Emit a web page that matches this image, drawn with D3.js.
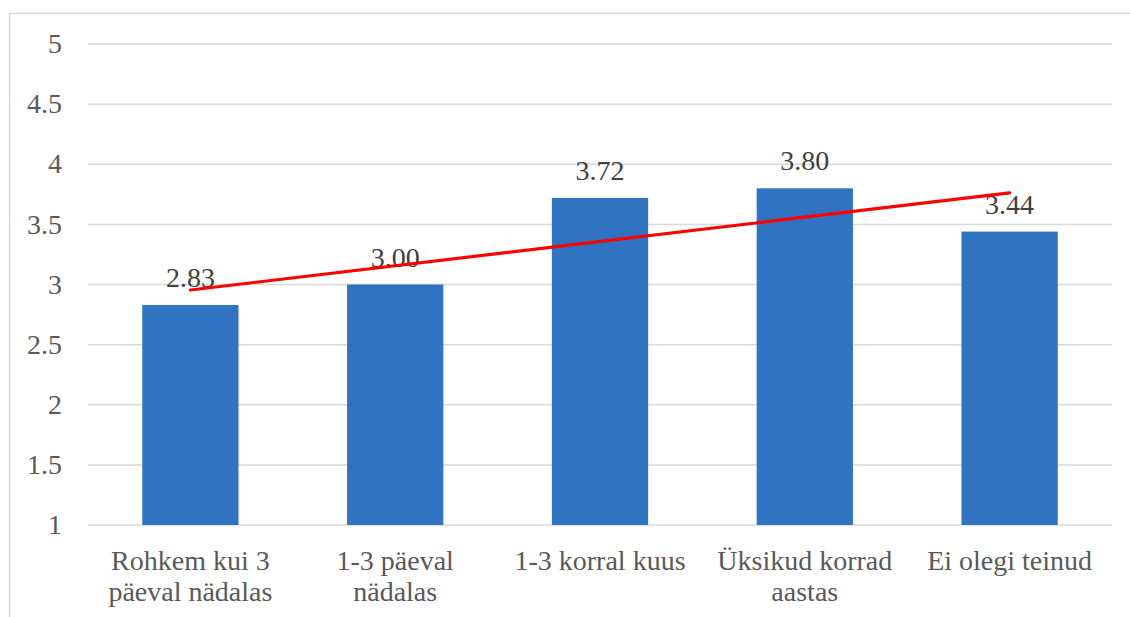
<!DOCTYPE html>
<html>
<head>
<meta charset="utf-8">
<script src="https://cdn.jsdelivr.net/npm/d3@7"></script>
<style>
  body { margin: 0; background: #ffffff; }
  #chart text { font-family: "Times New Roman", "Liberation Serif", Tinos, serif; font-size: 28px; }
</style>
</head>
<body>
<svg id="chart" width="1130" height="617" font-family="Times New Roman"></svg>
<script>
// Categories (as printed, one entry per line) and mean values per category
const categories = [
  ["Rohkem kui 3", "päeval nädalas"],
  ["1-3 päeval", "nädalas"],
  ["1-3 korral kuus"],
  ["Üksikud korrad", "aastas"],
  ["Ei olegi teinud"]
];
const values = [2.83, 3.00, 3.72, 3.80, 3.44];
const yTicks = [1, 1.5, 2, 2.5, 3, 3.5, 4, 4.5, 5];

const FONT = '"Times New Roman", "Liberation Serif", serif';
const keys = categories.map(c => c.join(" "));
const svg = d3.select("#chart");
const W = 1130, H = 617;
const plot = { left: 88, right: 1112, top: 44, bottom: 525 };

// Outer chart frame
svg.append("rect")
  .attr("x", 9.5).attr("y", 13.5)
  .attr("width", W).attr("height", H)
  .attr("fill", "none").attr("stroke", "#d9d9d9").attr("stroke-width", 1.5);

const x = d3.scaleBand()
  .domain(keys)
  .range([plot.left, plot.right])
  .paddingInner(0.53)
  .paddingOuter(0.265);

const y = d3.scaleLinear()
  .domain([1, 5])
  .range([plot.bottom, plot.top]);

// Horizontal gridlines
svg.append("g").selectAll("line")
  .data(yTicks)
  .join("line")
  .attr("x1", plot.left).attr("x2", plot.right)
  .attr("y1", d => y(d)).attr("y2", d => y(d))
  .attr("stroke", "#d9d9d9").attr("stroke-width", 1.5);

// Y tick labels
const fmt = d3.format("~g");
svg.append("g").selectAll("text")
  .data(yTicks)
  .join("text")
  .attr("x", plot.left - 26)
  .attr("y", d => y(d))
  .attr("dy", "0.33em")
  .attr("text-anchor", "end")
  .attr("fill", "#595959")
  .style("font-family", FONT)
  .text(d => fmt(d));

// Bars
svg.append("g").selectAll("rect")
  .data(values)
  .join("rect")
  .attr("x", (d, i) => x(keys[i]))
  .attr("width", x.bandwidth())
  .attr("y", d => y(d))
  .attr("height", d => y(1) - y(d))
  .attr("fill", "#2f73c1");

// Value labels
svg.append("g").selectAll("text")
  .data(values)
  .join("text")
  .attr("x", (d, i) => x(keys[i]) + x.bandwidth() / 2)
  .attr("y", d => y(d) - 18)
  .attr("text-anchor", "middle")
  .attr("fill", "#404040")
  .style("font-family", FONT)
  .text(d => d.toFixed(2));

// Linear trendline through the category positions 1..n
const n = values.length;
const xs = d3.range(1, n + 1);
const mx = d3.mean(xs), my = d3.mean(values);
const slope = d3.sum(xs, (v, i) => (v - mx) * (values[i] - my)) / d3.sum(xs, v => (v - mx) ** 2);
const intercept = my - slope * mx;
const trend = [1, n].map(k => ({ cx: x(keys[k - 1]) + x.bandwidth() / 2, v: intercept + slope * k }));
svg.append("path")
  .datum(trend)
  .attr("d", d3.line().x(d => d.cx).y(d => y(d.v)))
  .attr("fill", "none")
  .attr("stroke", "#ff0000")
  .attr("stroke-width", 3.2)
  .attr("stroke-linecap", "round");

// Category labels
svg.append("g").selectAll("text")
  .data(categories)
  .join("text")
  .attr("x", (d, i) => x(keys[i]) + x.bandwidth() / 2)
  .attr("y", plot.bottom + 45)
  .attr("text-anchor", "middle")
  .attr("fill", "#595959")
  .style("font-family", FONT)
  .each(function(lines, i) {
    const t = d3.select(this);
    const cx = x(keys[i]) + x.bandwidth() / 2;
    lines.forEach((ln, j) => {
      t.append("tspan").attr("x", cx).attr("dy", j === 0 ? 0 : 31).text(ln);
    });
  });
</script>
</body>
</html>
